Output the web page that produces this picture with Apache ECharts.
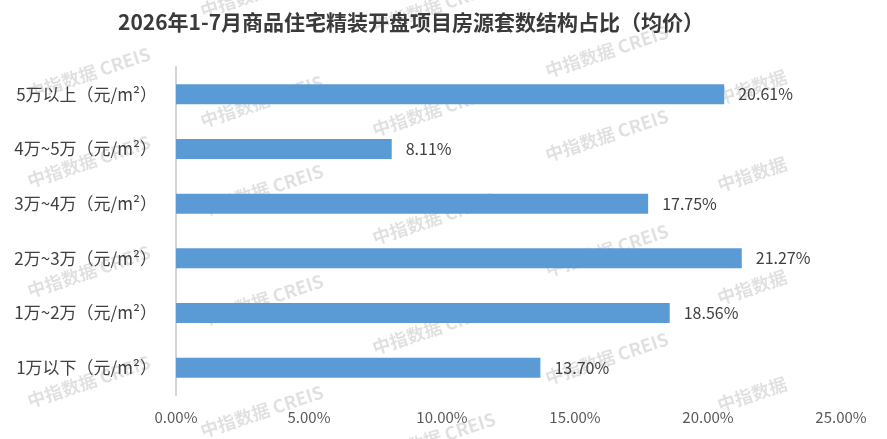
<!DOCTYPE html>
<html>
<head>
<meta charset="utf-8">
<script src="https://cdn.jsdelivr.net/npm/echarts@6/dist/echarts.min.js"></script>
<style>
html,body{margin:0;padding:0;background:#fff;}
#chart{width:887px;height:439px;}
</style>
</head>
<body>
<div id="chart"></div>
<script>
const titleText = '2026年1-7月商品住宅精装开盘项目房源套数结构占比（均价）';
const categories = ['5万以上（元/m²）', '4万~5万（元/m²）', '3万~4万（元/m²）', '2万~3万（元/m²）', '1万~2万（元/m²）', '1万以下（元/m²）'];
const shares = [20.61, 8.11, 17.75, 21.27, 18.56, 13.70];
const xTicks = [0, 5, 10, 15, 20, 25];
const watermarkText = '中指数据 CREIS';
const watermarkShort = '中指数据';

// watermark anchor points (left-bottom of text), decoration only
const wmCols = [
  [25, [85, 173, 283, 393], watermarkText],
  [198, [3, 113, 202, 312, 423], watermarkText],
  [370, [18, 122, 230, 340, 450], watermarkText],
  [543, [63, 147, 262, 370], watermarkText],
  [715, [90, 177, 290, 397], watermarkShort]
];
const graphics = [];
wmCols.forEach(([x, ys, txt]) => {
  ys.forEach(y => {
    graphics.push({
      type: 'text', x: x, y: y, rotation: 18.3 * Math.PI / 180, z: 0, silent: true,
      style: { text: txt, fill: 'rgba(0,0,0,0.12)', font: 'bold 18px "Noto Sans CJK SC", sans-serif', textBaseline: 'bottom', textAlign: 'left' }
    });
  });
});

const chart = echarts.init(document.getElementById('chart'), null, { renderer: 'canvas' });
chart.setOption({
  backgroundColor: '#ffffff',
  animation: false,
  title: {
    text: titleText, left: 113, top: 7,
    textStyle: { fontFamily: '"Noto Sans CJK SC", sans-serif', fontSize: 21, fontWeight: 'bold', color: '#3a3a3a' }
  },
  graphic: graphics,
  grid: { left: 176, right: 46, top: 67, bottom: 44, containLabel: false },
  xAxis: {
    type: 'value', min: xTicks[0], max: xTicks[xTicks.length - 1], interval: 5,
    axisLine: { show: false }, axisTick: { show: false }, splitLine: { show: false },
    axisLabel: { margin: 15, color: '#595959', fontSize: 15, fontFamily: '"Noto Sans CJK SC", sans-serif',
      formatter: v => v.toFixed(2) + '%' }
  },
  yAxis: {
    type: 'category', data: categories, inverse: true,
    axisLine: { show: true, lineStyle: { color: '#d4d4d4', width: 2 } },
    axisTick: { show: false },
    axisLabel: { margin: 19, color: '#404040', fontSize: 17, fontFamily: '"Noto Sans CJK SC", sans-serif' }
  },
  series: [{
    type: 'bar', data: shares, barWidth: 20, z: 2,
    itemStyle: { color: '#5b9bd5' },
    label: { show: true, position: 'right', distance: 14, color: '#404040', fontSize: 16,
      fontFamily: '"Noto Sans CJK SC", sans-serif', formatter: p => p.value.toFixed(2) + '%' }
  }]
});
</script>
</body>
</html>
